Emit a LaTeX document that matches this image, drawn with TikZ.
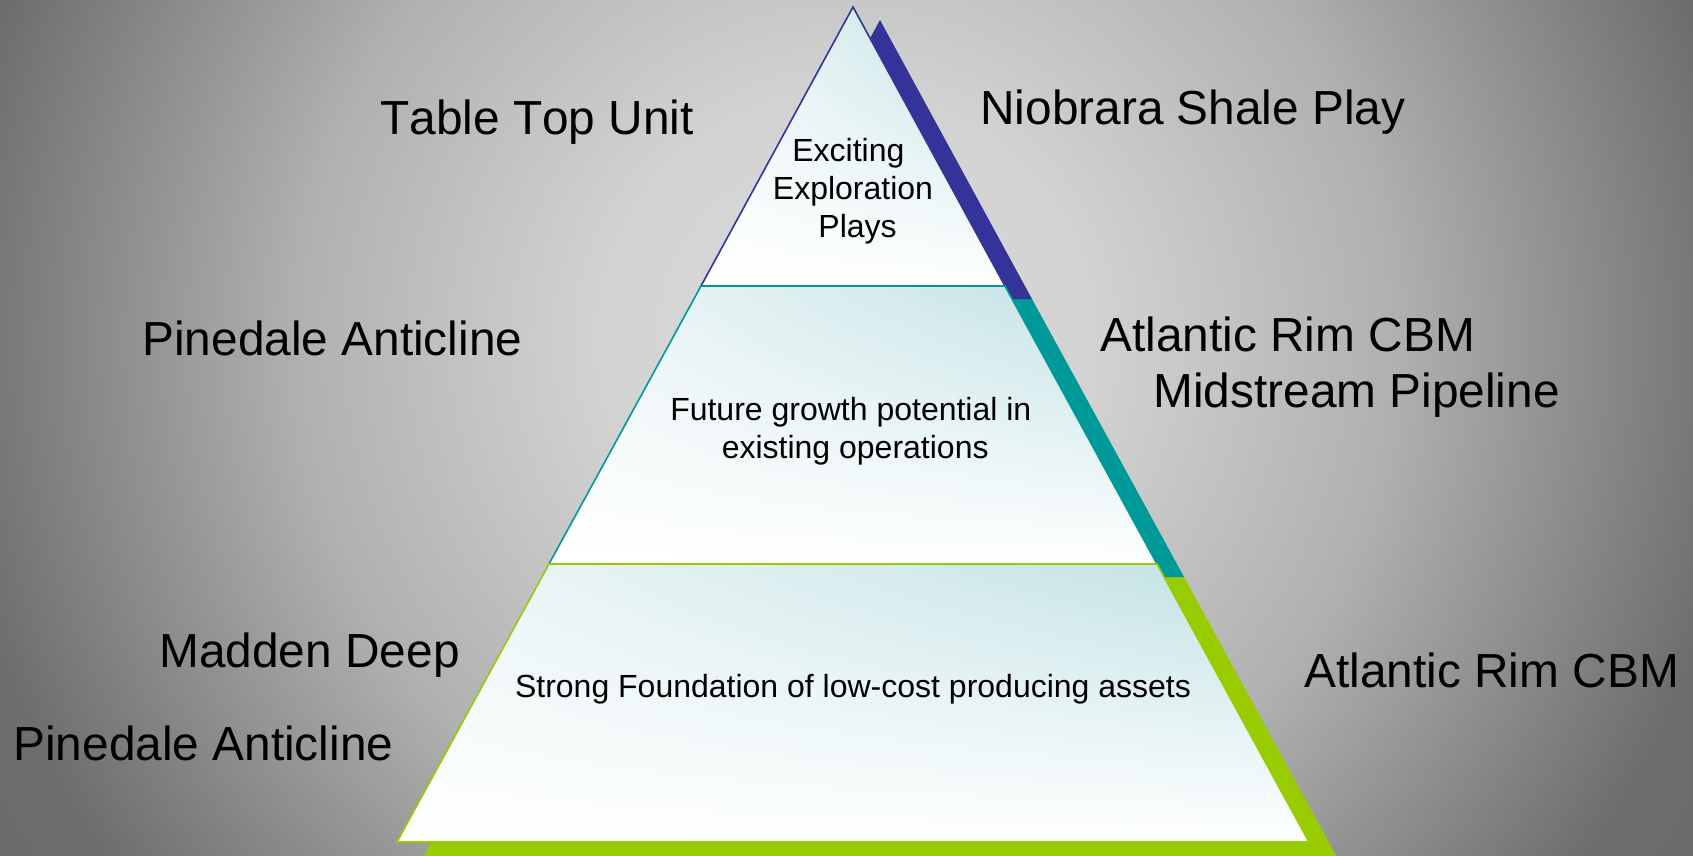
\documentclass[tikz,border=0pt]{standalone}
\usepackage{fontspec}
\setmainfont{Liberation Sans}[Kerning=Off]
\usepackage{xcolor}
\definecolor{plumband}{HTML}{333399}
\definecolor{tealband}{HTML}{009999}
\definecolor{limeband}{HTML}{99CC00}
\definecolor{aqua}{HTML}{BEE0E3}
\definecolor{paleaqua}{HTML}{F0F7F8}
\definecolor{bgA}{HTML}{DCDCDC}
\definecolor{bgB}{HTML}{D2D2D2}
\definecolor{bgC}{HTML}{B0B0B0}
\definecolor{bgD}{HTML}{6E6E6E}
\definecolor{bgE}{HTML}{6A6A6A}
\usepackage{tikz}
\usetikzlibrary{calc,shadings}
% 25bp = 1000px on the backdrop circle
\pgfdeclareradialshading{backdrop}{\pgfpoint{0bp}{0bp}}{%
  color(0bp)=(bgA); color(6.25bp)=(bgB); color(13.75bp)=(bgC);
  color(22.5bp)=(bgD); color(25bp)=(bgE); color(50bp)=(bgE)}
\tikzset{
  tierfill/.style={upper left=paleaqua,upper right=aqua,
                   lower left=white,lower right=white,line width=0.8pt},
  tierone/.style  ={tierfill,draw=plumband},
  tiertwo/.style  ={tierfill,draw=tealband},
  tierthree/.style={tierfill,draw=limeband},
  tag/.style  ={font=\fontsize{23.9}{28.7}\selectfont,anchor=base west,inner sep=0pt},
  blurb/.style={font=\fontsize{16}{19}\selectfont,align=center,inner sep=0pt},
}
\begin{document}
\begin{tikzpicture}[x=0.5pt,y=-0.5pt]
\useasboundingbox (0,0) rectangle (1693,856);
% backdrop
\begin{scope}
\clip (0,0) rectangle (1693,856);
\shade[shading=backdrop] (846,340) circle [radius=500pt];
\end{scope}
% shadow bands
\fill[limeband] (576,577) -- (1184,577) -- (1344,870) -- (416,870) -- cycle;
\fill[tealband] (728,299) -- (1032,299) -- (1184,577) -- (576,577) -- cycle;
\fill[plumband] (880,20) -- (1032,299) -- (728,299) -- cycle;
% tiers
\shadedraw[tierone]   (853,7) -- (1005,286) -- (701,286) -- cycle;
\shadedraw[tiertwo]   (701,286) -- (1005,286) -- (1157,564) -- (549,564) -- cycle;
\shadedraw[tierthree] (549,564) -- (1157,564) -- (1309,842) -- (397,842) -- cycle;
\node[blurb] (explore)    at (853,191) {\mbox{Exciting\hspace{4.6pt}}\\Exploration\\\mbox{\hspace{4.6pt}Plays}};
\node[blurb] (growth)     at (853,431) {\mbox{Future growth potential in\hspace{2.2pt}}\\\mbox{\hspace{2.2pt}existing operations}};
\node[blurb,anchor=base] (foundation) at (853,697) {Strong Foundation of low-cost producing assets};
% assets
\node[tag] (tabletop)    at (380,135)   {Table Top Unit};
\node[tag] (niobrara)    at (980,124.5) {Niobrara Shale Play};
\node[tag] (pinedaleup)  at (142,355.5) {Pinedale Anticline};
\node[tag] (atlanticup)  at (1100,351)  {Atlantic Rim CBM};
\node[tag] (midstream)   at (1153,407)  {Midstream Pipeline};
\node[tag] (madden)      at (159,667)   {Madden Deep};
\node[tag] (pinedalelow) at (13,760)    {Pinedale Anticline};
\node[tag] (atlanticlow) at (1304,687)  {Atlantic Rim CBM};
\end{tikzpicture}
\end{document}
